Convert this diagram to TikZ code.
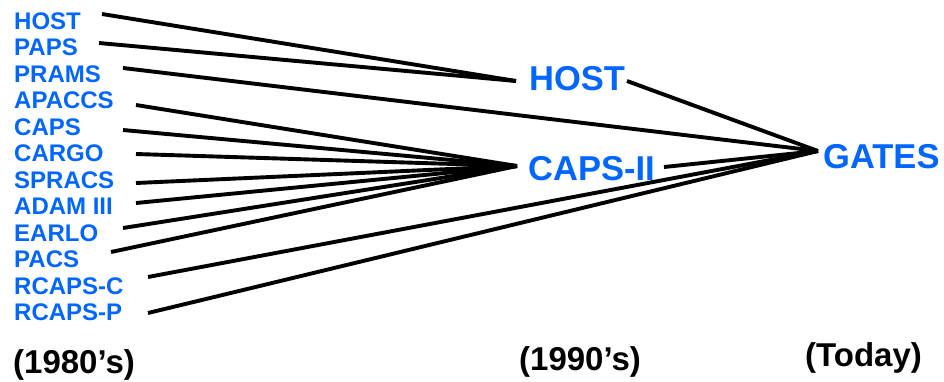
\documentclass[tikz,border=0pt]{standalone}
\usepackage{fontspec}
\setmainfont{Liberation Sans}
\usepackage{xcolor}
\usetikzlibrary{positioning}
\definecolor{sysblue}{RGB}{0,102,255}

\begin{document}
\begin{tikzpicture}[x=1pt,y=-1pt,
  old/.style={anchor=base west,inner sep=0pt,text=sysblue,font=\bfseries\fontsize{24}{28}\selectfont},
  new/.style={anchor=base west,inner sep=0pt,text=sysblue,font=\bfseries\fontsize{34.5}{40}\selectfont},
  era/.style={anchor=base west,inner sep=0pt,font=\bfseries\fontsize{33}{38}\selectfont},
  link/.style={line width=3.9pt}]
\useasboundingbox (0,0) rectangle (944,381);
% 1980's systems
\node[old] (host80) at (14,29) {HOST};
\node[old] (paps) at (14,55.5) {PAPS};
\node[old] (prams) at (14,82) {PRAMS};
\node[old] (apaccs) at (14,108.5) {APACCS};
\node[old] (caps) at (14,135) {CAPS};
\node[old] (cargo) at (14,161.5) {CARGO};
\node[old] (spracs) at (14,188) {SPRACS};
\node[old] (adam) at (14,214.5) {ADAM III};
\node[old] (earlo) at (14,241) {EARLO};
\node[old] (pacs) at (14,267.5) {PACS};
\node[old] (rcapsc) at (14,294) {RCAPS-C};
\node[old] (rcapsp) at (14,320.5) {RCAPS-P};
% 1990's and today
\node[new] (host90) at (529,90) {HOST};
\node[new] (capsii) at (528,180) {CAPS-II};
\node[new] (gates) at (823,168) {GATES};
\node[era] (e80) at (13,373) {(1980’s)};
\node[era] (e90) at (519,370) {(1990’s)};
\node[era] (etoday) at (805,366) {(Today)};
% line ends
\coordinate (sHost) at (102,14);
\coordinate (sPaps) at (99,43);
\coordinate (sPrams) at (123,68);
\coordinate (sApaccs) at (136,105);
\coordinate (sCaps) at (123,130);
\coordinate (sCargo) at (136,154);
\coordinate (sSpracs) at (136,183);
\coordinate (sAdam) at (136,203);
\coordinate (sEarlo) at (123,228);
\coordinate (sPacs) at (111,252);
\coordinate (sRcapsc) at (148,277);
\coordinate (sRcapsp) at (148,313);
\coordinate (inHost) at (516,81);
\coordinate (inCaps) at (517,166);
\coordinate (outHost) at (627,81);
\coordinate (outCaps) at (664,167);
\coordinate (inGates) at (818,151);
% connectors
\draw[link] (sHost) -- (inHost);
\draw[link] (sPaps) -- (inHost);
\draw[link] (sPrams) -- (inGates);
\draw[link] (sApaccs) -- (inCaps);
\draw[link] (sCaps) -- (inCaps);
\draw[link] (sCargo) -- (inCaps);
\draw[link] (sSpracs) -- (inCaps);
\draw[link] (sAdam) -- (inCaps);
\draw[link] (sEarlo) -- (inCaps);
\draw[link] (sPacs) -- (inCaps);
\draw[link] (sRcapsc) -- (inGates);
\draw[link] (sRcapsp) -- (inGates);
\draw[link] (outHost) -- (inGates);
\draw[link] (outCaps) -- (inGates);
\end{tikzpicture}
\end{document}
